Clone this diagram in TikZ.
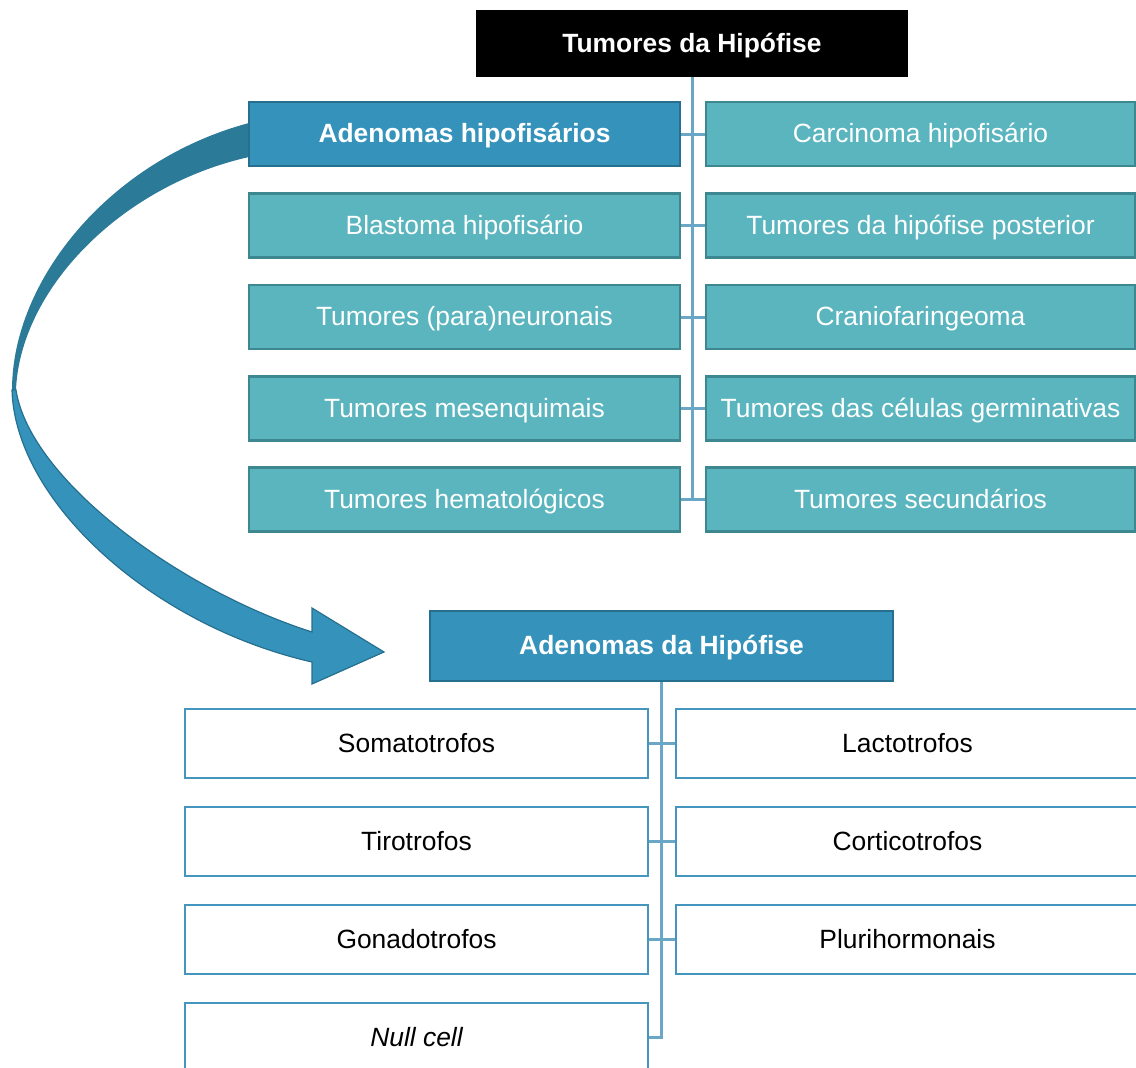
\documentclass[tikz,border=0pt]{standalone}
\usepackage{fontspec}
\setmainfont{Liberation Sans}
\definecolor{tealfill}{HTML}{5AB5BF}
\definecolor{tealline}{HTML}{3D8890}
\definecolor{bluefill}{HTML}{3593BB}
\definecolor{blueline}{HTML}{276F8F}
\definecolor{backarrow}{HTML}{2B7A98}
\definecolor{conn}{HTML}{6AA6C6}
\definecolor{whiteline}{HTML}{4496BE}
\begin{document}
\begin{tikzpicture}[x=1pt,y=-1pt,
  txt/.style={font=\fontsize{26.4}{30}\selectfont,text height=19pt,text depth=2pt},
  topbox/.style={txt,rectangle,fill=black,text=white,font=\fontsize{26.4}{30}\selectfont\bfseries,minimum width=432pt,minimum height=67pt,inner sep=0pt},
  tealbox/.style={txt,rectangle,fill=tealfill,draw=tealline,line width=2.5pt,text=white,minimum height=64pt,inner sep=0pt},
  mainbox/.style={txt,rectangle,fill=bluefill,draw=blueline,line width=2.5pt,text=white,font=\fontsize{26.4}{30}\selectfont\bfseries,inner sep=0pt},
  whitebox/.style={txt,rectangle,fill=white,draw=whiteline,line width=2.5pt,text=black,minimum width=463pt,minimum height=69pt,inner sep=0pt},
  connector/.style={draw=conn,line width=3pt}]
\useasboundingbox (0,0) rectangle (1136,1068);
% curved arrow, back part
\path[fill=backarrow] (262,121) -- (249,123) .. controls (110,160) and (12,280) .. (12,390)
  -- (16,390) .. controls (20,290) and (120,186) .. (249,157) -- (262,157) -- cycle;
% curved arrow, front part
\path[fill=bluefill,draw=blueline,line width=1.2pt,line join=miter]
  (16,390) .. controls (30,480) and (180,590) .. (312,632)
  -- (312,608) -- (384,652) -- (312,684) -- (312,662)
  .. controls (150,625) and (15,500) .. (12,390) -- cycle;
% top section
\node[topbox] (top) at (692,43.5) {Tumores da Hipófise};
\node[mainbox,minimum width=431pt,minimum height=64pt] (l1) at (464.5,134) {Adenomas hipofisários};
\node[tealbox,minimum width=431pt] (l2) at (464.5,225.5) {Blastoma hipofisário};
\node[tealbox,minimum width=431pt] (l3) at (464.5,317) {Tumores (para)neuronais};
\node[tealbox,minimum width=431pt] (l4) at (464.5,408.5) {Tumores mesenquimais};
\node[tealbox,minimum width=431pt] (l5) at (464.5,499.5) {Tumores hematológicos};
\node[tealbox,minimum width=429pt] (r1) at (920.5,134) {Carcinoma hipofisário};
\node[tealbox,minimum width=429pt] (r2) at (920.5,225.5) {Tumores da hipófise posterior};
\node[tealbox,minimum width=429pt] (r3) at (920.5,317) {Craniofaringeoma};
\node[tealbox,minimum width=429pt] (r4) at (920.5,408.5) {Tumores das células germinativas};
\node[tealbox,minimum width=429pt] (r5) at (920.5,499.5) {Tumores secundários};
\coordinate (tj) at (top.south |- l5.east);
\draw[connector] (top.south) -- (tj);
\foreach \i in {1,...,5}{\draw[connector] (l\i.east) -- (r\i.west);}
% bottom section
\node[mainbox,minimum width=463pt,minimum height=70pt] (ad) at (661.5,646) {Adenomas da Hipófise};
\node[whitebox] (b1) at (416.5,743.5) {Somatotrofos};
\node[whitebox] (b2) at (416.5,841.5) {Tirotrofos};
\node[whitebox] (b3) at (416.5,939.5) {Gonadotrofos};
\node[whitebox] (b4) at (416.5,1037.5) {\itshape Null cell};
\node[whitebox] (c1) at (907.5,743.5) {Lactotrofos};
\node[whitebox] (c2) at (907.5,841.5) {Corticotrofos};
\node[whitebox] (c3) at (907.5,939.5) {Plurihormonais};
\coordinate (bj) at (ad.south |- b4.east);
\draw[connector,line join=miter] (ad.south) -- (bj) -- (b4.east);
\foreach \i in {1,2,3}{\draw[connector] (b\i.east) -- (c\i.west);}
\end{tikzpicture}
\end{document}
